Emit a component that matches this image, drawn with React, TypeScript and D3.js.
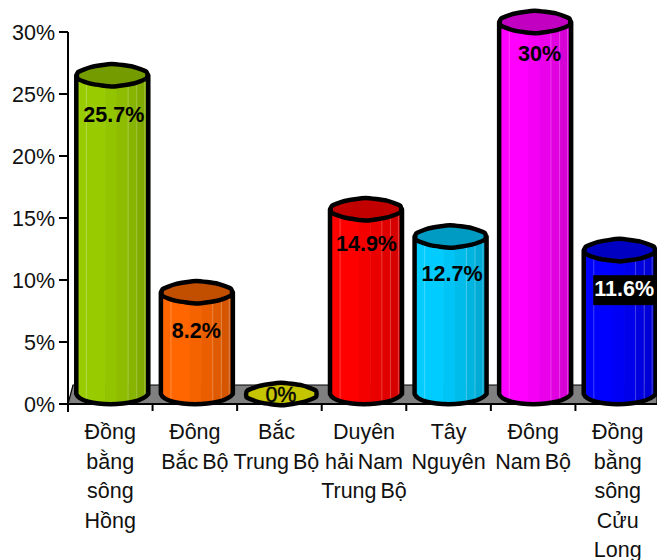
import React from "react";
import * as d3 from "d3";

const categories = [
  ["Đồng", "bằng", "sông", "Hồng"],
  ["Đông", "Bắc Bộ"],
  ["Bắc", "Trung Bộ"],
  ["Duyên", "hải Nam", "Trung Bộ"],
  ["Tây", "Nguyên"],
  ["Đông", "Nam Bộ"],
  ["Đồng", "bằng", "sông", "Cửu", "Long"],
];
const values = [25.7, 8.2, 0, 14.9, 12.7, 30, 11.6];
const valueLabels = ["25.7%", "8.2%", "0%", "14.9%", "12.7%", "30%", "11.6%"];
const colors = ["#99CC00", "#FF6600", "#C4C400", "#FF0000", "#00CCFF", "#FF00FF", "#0000FF"];
const yTicks = [0, 5, 10, 15, 20, 25, 30];

const W = 657;
const H = 560;
const FONT = "'Liberation Sans', Arial, sans-serif";
const AXIS_X = 68;
const AXIS_RIGHT = 660;

// Hand-tuned label nudges below each cylinder's top face.
const labelDrop = [39, 38, 0, 34, 37, 31, 40];
const labelShiftX = [2, 0, 0, 1, 2, 5, 5];
const categoryShiftX = [0, 0, -3, 0, 0, 0, 0];

// Shading across the cylinder wall, left to right: [start fraction, brightness].
const wallBands: [number, number][] = [
  [0, 0.98], [0.04, 1.0], [0.4, 0.96], [0.56, 0.92], [0.72, 0.88], [0.84, 0.84], [0.95, 0.8],
];
const wallHighlights = [0.14, 0.72, 0.84, 0.95];

// Outline of the cylinder ends: coarse so the curve keeps its faceted look.
const rimAngles = d3.range(0, 10).map((i) => (i / 10) * 2 * Math.PI + 0.3);
const rimWobble = [1, 0.97, 1.07, 1, 1.05, 1, 0.98, 1.08, 1, 1.02];

const y = d3.scaleLinear().domain([0, 30]).range([404, 32]);
const x = d3.scaleBand<number>().domain(d3.range(values.length)).range([AXIS_X, AXIS_RIGHT]);

const RX = 36;
const RY = 10.5;
const DEPTH = 10; // upward shift of a cylinder's axis from the front baseline

function rimPath(cx: number, cy: number) {
  const pts = rimAngles.map((a, i) => [
    cx + RX * Math.cos(a) * (1.0 + (rimWobble[i] - 1) * 0.3),
    cy + RY * Math.sin(a) * rimWobble[i],
  ]) as [number, number][];
  return d3.line().curve(d3.curveCardinalClosed.tension(0.5))(pts) ?? "";
}

function shade(color: string, k: number) {
  const c = d3.rgb(color);
  return d3.rgb(c.r * k, c.g * k, c.b * k).formatHex();
}

function Cylinder({ i }: { i: number }) {
  const v = values[i];
  const color = colors[i];
  const cx = (x(i) as number) + x.bandwidth() / 2 + 2;
  const top = y(v) - DEPTH;
  const base = y(0) - DEPTH;
  const left = cx - RX;
  const width = RX * 2;

  if (v === 0) {
    return <path d={rimPath(cx, base)} fill={color} stroke="#000" strokeWidth={4.5} />;
  }

  const id = `clip-${i}`;
  const front = d3.path();
  front.moveTo(left, top);
  front.lineTo(left, base);
  front.bezierCurveTo(left + 5, base + RY * 1.3, left + width - 10, base + RY * 1.3, left + width, base);
  front.lineTo(left + width, top);
  front.closePath();
  const outline = front.toString();

  return (
    <g>
      <clipPath id={id}>
        <path d={outline} />
      </clipPath>
      <g clipPath={`url(#${id})`}>
        {wallBands.map(([f, k], b) => {
          const next = b + 1 < wallBands.length ? wallBands[b + 1][0] : 1;
          return (
            <rect
              key={b}
              x={left + f * width}
              y={top - 2}
              width={(next - f) * width + 0.5}
              height={base - top + RY + 6}
              fill={shade(color, k)}
            />
          );
        })}
        {wallHighlights.map((f) => (
          <line
            key={f}
            x1={left + f * width}
            x2={left + f * width}
            y1={top}
            y2={base + RY}
            stroke="#fff"
            strokeOpacity={0.25}
            strokeWidth={1}
          />
        ))}
      </g>
      <path d={outline} fill="none" stroke="#000" strokeWidth={4.5} strokeLinejoin="round" />
      <path d={rimPath(cx, top)} fill={shade(color, 0.76)} stroke="#000" strokeWidth={4.5} />
    </g>
  );
}

export default function App() {
  const floorTop = y(0) - 19;
  const floor = d3.path();
  floor.moveTo(AXIS_X, y(0));
  floor.lineTo(AXIS_X + 5, floorTop);
  floor.lineTo(W, floorTop);
  floor.lineTo(W, y(0));
  floor.closePath();

  return (
    <svg
      width={W}
      height={H}
      viewBox={`0 0 ${W} ${H}`}
      style={{ position: "absolute", left: 0, top: 0, background: "#fff", fontFamily: FONT }}
    >
      <path d={floor.toString()} fill="#808080" stroke="#000" strokeWidth={1.2} />

      {/* value axis */}
      <line x1={AXIS_X} x2={AXIS_X} y1={y(30)} y2={y(0) + 8} stroke="#000" strokeWidth={2} />
      {yTicks.map((t) => (
        <g key={t}>
          <line x1={AXIS_X - 9} x2={AXIS_X} y1={y(t)} y2={y(t)} stroke="#000" strokeWidth={2} />
          <text x={AXIS_X - 13} y={y(t) + 7.5} fontSize={21.5} textAnchor="end" fill="#111">
            {t}%
          </text>
        </g>
      ))}

      {/* category axis */}
      <line x1={AXIS_X} x2={W} y1={y(0)} y2={y(0)} stroke="#000" strokeWidth={2} />
      {values.map((_, i) => (
        <line
          key={i}
          x1={(x(i) as number) + x.bandwidth()}
          x2={(x(i) as number) + x.bandwidth()}
          y1={y(0)}
          y2={y(0) + 7}
          stroke="#000"
          strokeWidth={2}
        />
      ))}

      {values.map((_, i) => (
        <Cylinder key={i} i={i} />
      ))}

      {/* category labels */}
      {categories.map((lines, i) =>
        lines.map((line, j) => (
          <text
            key={j}
            x={(x(i) as number) + x.bandwidth() / 2 + categoryShiftX[i]}
            y={439 + j * 29.5}
            fontSize={21.5}
            wordSpacing={-2}
            textAnchor="middle"
            fill="#111"
          >
            {line}
          </text>
        ))
      )}

      {/* value labels */}
      {values.map((v, i) => {
        const cx = (x(i) as number) + x.bandwidth() / 2 + 1.5 + labelShiftX[i];
        const cy = v === 0 ? y(0) - DEPTH : y(v) - DEPTH + labelDrop[i];
        const boxed = i === values.length - 1;
        return (
          <g key={i}>
            {boxed && <rect x={cx - 31} y={cy - 15} width={62} height={30} fill="#000" />}
            <text
              x={cx}
              y={boxed ? cy + 6 : cy + 7.5}
              fontSize={21.5}
              fontWeight={v === 0 ? "normal" : "bold"}
              stroke={v === 0 ? "#000" : "none"}
              strokeWidth={v === 0 ? 0.4 : 0}
              textAnchor="middle"
              fill={boxed ? "#fff" : "#000"}
            >
              {valueLabels[i]}
            </text>
          </g>
        );
      })}
    </svg>
  );
}
